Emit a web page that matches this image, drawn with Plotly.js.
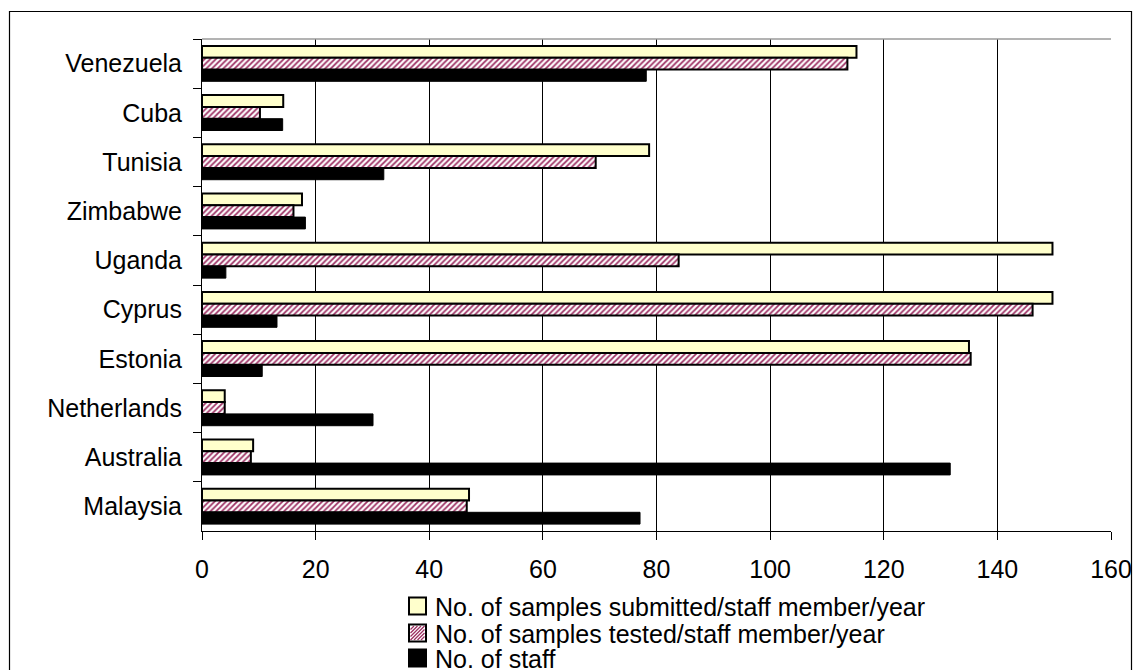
<!DOCTYPE html>
<html>
<head>
<meta charset="utf-8">
<script src="https://cdn.plot.ly/plotly-3.0.1.min.js"></script>
<style>html,body{margin:0;padding:0;background:#fff;}#chart{width:1140px;height:670px;}</style>
</head>
<body>
<div id="chart"></div>
<script>
// ---- data ----
const countries = ['Venezuela','Cuba','Tunisia','Zimbabwe','Uganda','Cyprus','Estonia','Netherlands','Australia','Malaysia'];
const submitted = [115.2, 14.3, 78.7, 17.6, 149.7, 149.7, 135.0, 4.0, 9.0, 47.0];
const tested    = [113.6, 10.2, 69.3, 16.1, 83.9, 146.2, 135.3, 4.0, 8.6, 46.6];
const staff     = [78.2, 14.2, 32.0, 18.2, 4.2, 13.2, 10.6, 30.1, 131.7, 77.1];
const seriesNames = ['No. of samples submitted/staff member/year','No. of samples tested/staff member/year','No. of staff'];
const xTicks = [0,20,40,60,80,100,120,140,160];

// ---- layout geometry ----
const W = 1140, H = 670;
const L = 202, R = 1111, T = 39, B = 531;
const pw = R - L, ph = B - T;
const px = v => (v - L) / pw;
const py = v => (B - v) / ph;

const FONT = 'Liberation Sans, Arial, sans-serif';
const PINK = '#9c2f62';

const traces = [
  {type:'bar', orientation:'h', name:seriesNames[0], y:countries, x:submitted,
   marker:{color:'#ffffcc', line:{color:'#000', width:2}}},
  {type:'bar', orientation:'h', name:seriesNames[1], y:countries, x:tested,
   marker:{color:'#ffffff', pattern:{shape:'/', fgcolor:PINK, bgcolor:'#ffffff', size:4, solidity:0.45},
           line:{color:'#000', width:2}}},
  {type:'bar', orientation:'h', name:seriesNames[2], y:countries, x:staff,
   marker:{color:'#000000', line:{color:'#000', width:1}}}
];

// legend drawn as annotations + swatch shapes (for tight row spacing)
const legRows = [606, 633, 658];
const boxX0 = 409, boxX1 = 426, boxH = 17;
const shapes = [];
const annotations = [];
const fills = ['#ffffcc', '#ffffff', '#000000'];
seriesNames.forEach((nm, i) => {
  const cy = legRows[i];
  const y0 = cy + boxH/2, y1 = cy - boxH/2;
  shapes.push({type:'rect', xref:'paper', yref:'paper', x0:px(boxX0), x1:px(boxX1), y0:py(y0), y1:py(y1),
    fillcolor:fills[i], line:{color:'#000', width:2}, layer:'above'});
  if (i === 1) {
    // diagonal hatch inside the swatch
    let path = '';
    const s = boxH - 3, ox = boxX0 + 1.5, oy = y0 - 1.5;
    for (let c = -s; c <= s; c += 3.5) {
      const u1 = Math.max(0, c), u2 = Math.min(s, s + c);
      if (u2 <= u1) continue;
      path += `M${px(ox+u1)},${py(oy-(u1-c))} L${px(ox+u2)},${py(oy-(u2-c))} `;
    }
    shapes.push({type:'path', xref:'paper', yref:'paper', path:path, line:{color:PINK, width:1.3}, layer:'above'});
  }
  annotations.push({xref:'paper', yref:'paper', x:px(433), y:py(cy+1), xanchor:'left', yanchor:'middle',
    text:nm, showarrow:false, font:{family:FONT, size:25, color:'#000'}});
});

// outer chart frame
shapes.push({type:'rect', xref:'paper', yref:'paper', x0:px(9.5), x1:px(1131.5), y0:py(675), y1:py(11.5),
  line:{color:'#000', width:1.2}, fillcolor:'rgba(0,0,0,0)', layer:'below'});
// plot area top border (grey)
shapes.push({type:'line', xref:'paper', yref:'paper', x0:0, x1:1, y0:1, y1:1, line:{color:'#9a9a9a', width:1.5}});

const layout = {
  width:W, height:H,
  margin:{l:L, r:W-R, t:T, b:H-B, pad:0},
  paper_bgcolor:'#ffffff', plot_bgcolor:'#ffffff',
  barmode:'group', bargap:0.28, bargroupgap:0,
  showlegend:false,
  font:{family:FONT, size:25, color:'#000'},
  xaxis:{range:[0,160], tickvals:xTicks, ticktext:xTicks.map(String), showgrid:true, gridcolor:'#000', gridwidth:1,
    showline:true, linecolor:'#000', linewidth:1, ticks:'outside', ticklen:8, tickcolor:'#000', tickwidth:1,
    ticklabelstandoff:8,
    zeroline:false, tickfont:{family:FONT, size:25, color:'#000'}, fixedrange:true},
  yaxis:{type:'category', autorange:'reversed', showline:true, linecolor:'#000', linewidth:1, mirror:false,
    ticks:'outside', tickson:'boundaries', ticklen:8, tickcolor:'#000', tickwidth:1, showgrid:false,
    ticklabelstandoff:14, tickfont:{family:FONT, size:25, color:'#000'}, fixedrange:true},
  shapes:shapes,
  annotations:annotations
};

Plotly.newPlot('chart', traces, layout, {staticPlot:true, displayModeBar:false});
</script>
</body>
</html>
